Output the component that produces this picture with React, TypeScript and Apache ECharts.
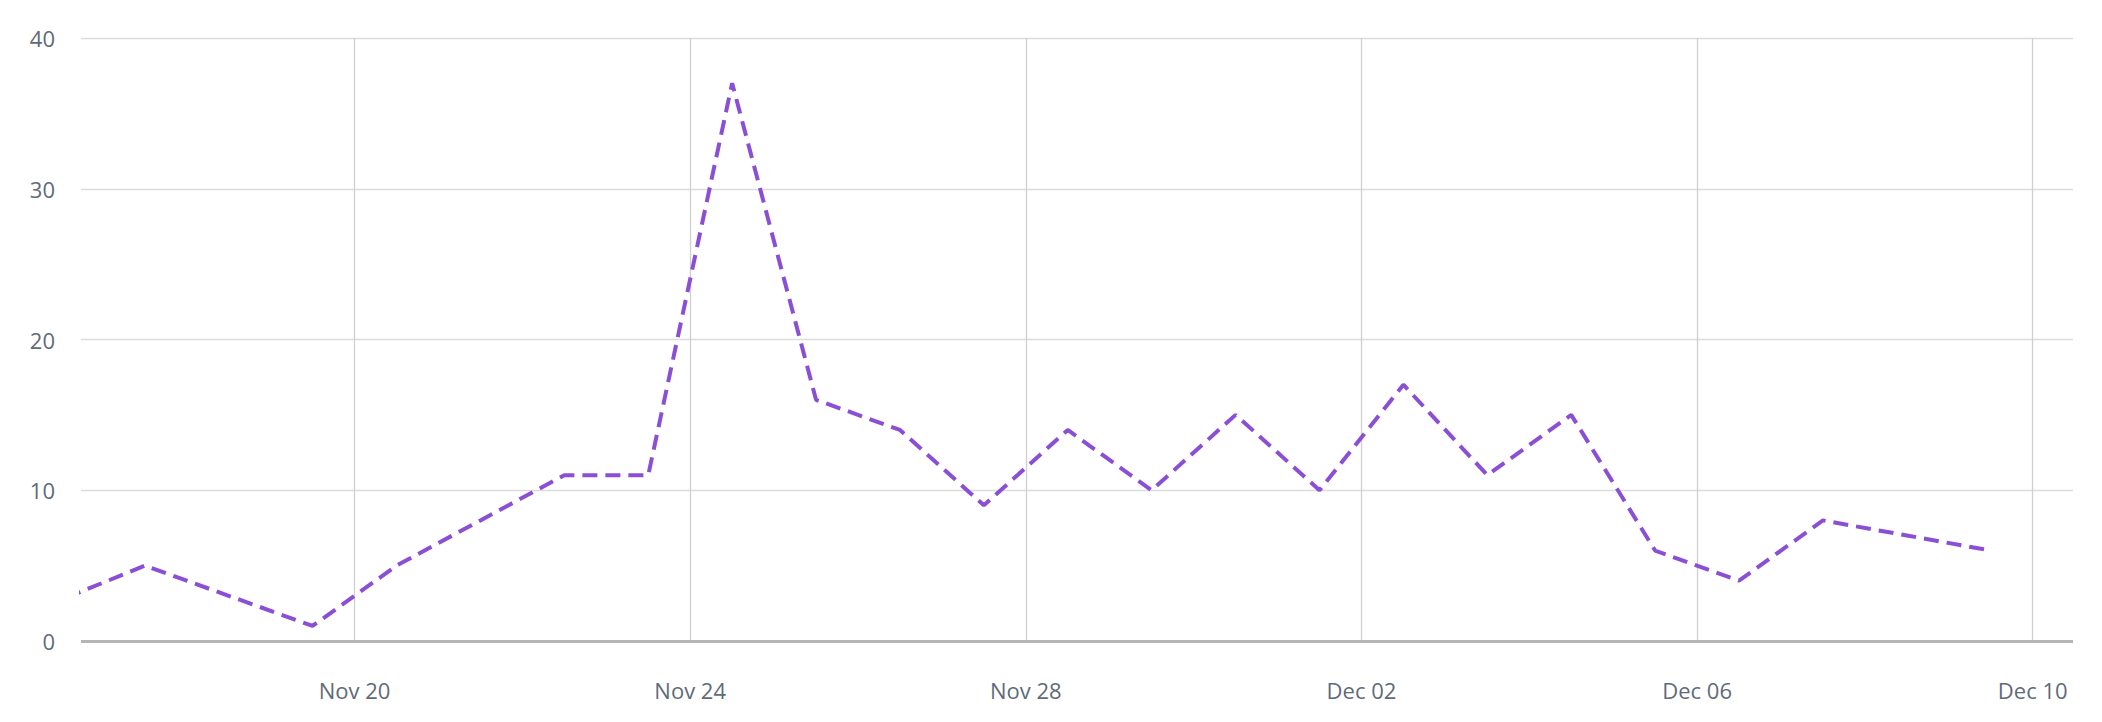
import React, { useRef, useEffect } from 'react'
import * as echarts from 'echarts'

const DAY = 86400000
const ORIGIN = Date.UTC(2023, 10, 20)
const MONTHS = ['Jan', 'Feb', 'Mar', 'Apr', 'May', 'Jun', 'Jul', 'Aug', 'Sep', 'Oct', 'Nov', 'Dec']

const dates = [
  '2023-11-16T07:30', '2023-11-17T12:00', '2023-11-18T12:00', '2023-11-19T12:00',
  '2023-11-20T12:00', '2023-11-21T12:00', '2023-11-22T12:00', '2023-11-23T12:00',
  '2023-11-24T12:00', '2023-11-25T12:00', '2023-11-26T12:00', '2023-11-27T12:00',
  '2023-11-28T12:00', '2023-11-29T12:00', '2023-11-30T12:00', '2023-12-01T12:00',
  '2023-12-02T12:00', '2023-12-03T12:00', '2023-12-04T12:00', '2023-12-05T12:00',
  '2023-12-06T12:00', '2023-12-07T12:00', '2023-12-08T12:00', '2023-12-09T12:00',
]
const values = [2.3, 5, 3, 1, 5, 8, 11, 11, 37, 16, 14, 9, 14, 10, 15, 10, 17, 11, 15, 6, 4, 8, 7, 6]
// tick days, counted from Nov 20
const tickDays = [0, 4, 8, 12, 16, 20]

const toDays = (s: string) => (Date.parse(s + 'Z') - ORIGIN) / DAY

export default function App() {
  const ref = useRef<HTMLDivElement>(null)

  useEffect(() => {
    if (!ref.current) return
    const chart = echarts.init(ref.current, null, { renderer: 'svg' })
    chart.setOption({
      animation: false,
      grid: { left: 81, right: 29, top: 38, bottom: 81 },
      xAxis: {
        type: 'value',
        min: -3.26,
        max: 20.48,
        axisLine: { show: false },
        axisTick: { show: false, customValues: tickDays },
        splitLine: { show: true, lineStyle: { color: '#cfcfcf', width: 1.3 } },
        axisLabel: {
          customValues: tickDays,
          margin: 38,
          color: '#5f6b78',
          fontSize: 22,
          fontFamily: 'Open Sans',
          formatter: (v: number) => {
            const d = new Date(ORIGIN + Math.round(v) * DAY)
            return `${MONTHS[d.getUTCMonth()]} ${String(d.getUTCDate()).padStart(2, '0')}`
          },
        },
      },
      yAxis: {
        type: 'value',
        min: 0,
        max: 40,
        interval: 10,
        axisLine: { show: false },
        axisTick: { show: false },
        splitLine: { lineStyle: { color: '#dcdcdc', width: 1.3 } },
        axisLabel: { color: '#5f6b78', fontSize: 22, fontFamily: 'Open Sans', margin: 26 },
      },
      series: [
        {
          type: 'line',
          data: dates.map((d, i) => [toDays(d), values[i]]),
          symbol: 'none',
          clip: false,
          lineStyle: { color: '#8a4fd4', width: 4, type: [15, 8] },
          markLine: {
            silent: true,
            symbol: 'none',
            label: { show: false },
            lineStyle: { color: '#b5b5b5', width: 3, type: 'solid' },
            data: [{ yAxis: 0 }],
          },
        },
      ],
    })
    return () => chart.dispose()
  }, [])

  return <div ref={ref} style={{ position: 'absolute', left: 0, top: 0, width: 2102, height: 722 }} />
}
